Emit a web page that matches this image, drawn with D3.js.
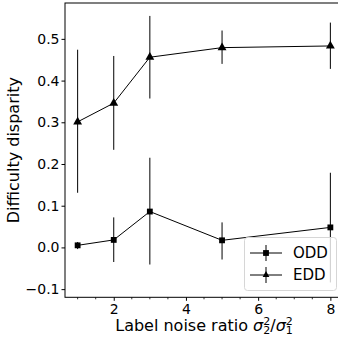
<!DOCTYPE html>
<html>
<head>
<meta charset="utf-8">
<script src="https://cdn.jsdelivr.net/npm/d3@7"></script>
<style>
  body { margin: 0; background: #fff; }
  svg text { font-family: "DejaVu Sans", sans-serif; fill: #000; }
</style>
</head>
<body>
<div id="chart"></div>
<script>
// noise ratios on x
const ratios = [1, 2, 3, 5, 8];

// ODD series: mean and error bar low/high
const oddMean = [0.005, 0.018, 0.086, 0.017, 0.048];
const oddLow  = [-0.004, -0.035, -0.041, -0.029, -0.084];
const oddHigh = [0.013, 0.072, 0.215, 0.060, 0.179];

// EDD series
const eddMean = [0.301, 0.346, 0.456, 0.479, 0.483];
const eddLow  = [0.131, 0.234, 0.357, 0.440, 0.428];
const eddHigh = [0.474, 0.459, 0.555, 0.520, 0.539];

const xTicks = [2, 4, 6, 8];
const yTicks = [-0.1, 0.0, 0.1, 0.2, 0.3, 0.4, 0.5];

const W = 338, H = 337;
const margin = {left: 65, top: 3, right: -5, bottom: 39};

const svg = d3.select("#chart").append("svg")
  .attr("width", W)
  .attr("height", H);

const x = d3.scaleLinear()
  .domain([0.65, 8.35])
  .range([margin.left, W - margin.right]);

const y = d3.scaleLinear()
  .domain([-0.1196, 0.586])
  .range([H - margin.bottom - 0.7, margin.top]);

const fmt = d => d3.format(".1f")(d).replace("-", "\u2212");

// axes
const xAxis = d3.axisBottom(x).tickValues(xTicks).tickSize(3.5).tickPadding(3).tickFormat(d3.format("d"));
const gx = svg.append("g")
  .attr("transform", `translate(0, ${y.range()[0]})`)
  .call(xAxis);
gx.select(".domain").remove();
gx.selectAll("text").style("font-size", "14px");

// minor x ticks
svg.append("g")
  .selectAll("line")
  .data(d3.range(1, 8.01, 0.5).filter(v => v % 2 !== 0))
  .join("line")
  .attr("x1", d => x(d)).attr("x2", d => x(d))
  .attr("y1", y.range()[0]).attr("y2", y.range()[0] + 2)
  .attr("stroke", "#000")
  .attr("stroke-width", 0.8);

const yAxis = d3.axisLeft(y).tickValues(yTicks).tickSize(3.5).tickPadding(2).tickFormat(fmt);
const gy = svg.append("g")
  .attr("transform", `translate(${margin.left}, 0)`)
  .call(yAxis);
gy.select(".domain").remove();
gy.selectAll("text").style("font-size", "14px");

// frame
svg.append("rect")
  .attr("x", margin.left)
  .attr("y", margin.top)
  .attr("width", x.range()[1] - margin.left)
  .attr("height", y.range()[0] - margin.top)
  .attr("fill", "none")
  .attr("stroke", "#000")
  .attr("stroke-width", 1);

// series
const series = [
  {label: "ODD", mean: oddMean, low: oddLow, high: oddHigh, marker: d3.symbolSquare},
  {label: "EDD", mean: eddMean, low: eddLow, high: eddHigh, marker: d3.symbolTriangle}
];

const line = d3.line()
  .x(d => x(d[0]))
  .y(d => y(d[1]));

series.forEach(s => {
  const g = svg.append("g");
  const pts = ratios.map((r, i) => [r, s.mean[i], s.low[i], s.high[i]]);

  g.selectAll("line.err")
    .data(pts)
    .join("line")
    .attr("class", "err")
    .attr("x1", d => x(d[0])).attr("x2", d => x(d[0]))
    .attr("y1", d => y(d[2])).attr("y2", d => y(d[3]))
    .attr("stroke", "#000")
    .attr("stroke-width", 1);

  g.append("path")
    .datum(pts)
    .attr("fill", "none")
    .attr("stroke", "#000")
    .attr("stroke-width", 1)
    .attr("d", line);

  g.selectAll("path.mk")
    .data(pts)
    .join("path")
    .attr("class", "mk")
    .attr("transform", d => `translate(${x(d[0])}, ${y(d[1])})`)
    .attr("d", d3.symbol().type(s.marker).size(34))
    .attr("fill", "#000");
});

// legend
const leg = svg.append("g");
leg.append("rect")
  .attr("x", 244.5).attr("y", 237.5)
  .attr("width", 92).attr("height", 53)
  .attr("rx", 3)
  .attr("fill", "#fff").attr("fill-opacity", 0.8)
  .attr("stroke", "#d6d6d6").attr("stroke-width", 1);

series.forEach((s, i) => {
  const cy = 253 + i * 22;
  leg.append("line")
    .attr("x1", 250).attr("x2", 282)
    .attr("y1", cy).attr("y2", cy)
    .attr("stroke", "#000").attr("stroke-width", 1);
  leg.append("line")
    .attr("x1", 266).attr("x2", 266)
    .attr("y1", cy - 8).attr("y2", cy + 8)
    .attr("stroke", "#000").attr("stroke-width", 1);
  leg.append("path")
    .attr("transform", `translate(266, ${cy})`)
    .attr("d", d3.symbol().type(s.marker).size(i === 0 ? 34 : 20))
    .attr("fill", "#000");
  leg.append("text")
    .attr("x", 293).attr("y", cy)
    .attr("dominant-baseline", "central")
    .style("font-size", "15px")
    .text(s.label);
});

// axis labels
svg.append("text")
  .attr("transform", `translate(13, ${(margin.top + y.range()[0]) / 2}) rotate(-90)`)
  .attr("text-anchor", "middle")
  .attr("dominant-baseline", "central")
  .style("font-size", "16px")
  .text("Difficulty disparity");

const xl = svg.append("text")
  .attr("x", (margin.left + x.range()[1]) / 2)
  .attr("y", 331)
  .attr("text-anchor", "middle")
  .style("font-size", "16px");
xl.append("tspan").text("Label noise ratio ");
xl.append("tspan").style("font-style", "italic").text("σ");
xl.append("tspan").attr("dy", -6).style("font-size", "11px").text("2");
xl.append("tspan").attr("dx", -7).attr("dy", 9).style("font-size", "11px").text("2");
xl.append("tspan").attr("dy", -3).text("/");
xl.append("tspan").style("font-style", "italic").text("σ");
xl.append("tspan").attr("dy", -6).style("font-size", "11px").text("2");
xl.append("tspan").attr("dx", -7).attr("dy", 9).style("font-size", "11px").text("1");
</script>
</body>
</html>
